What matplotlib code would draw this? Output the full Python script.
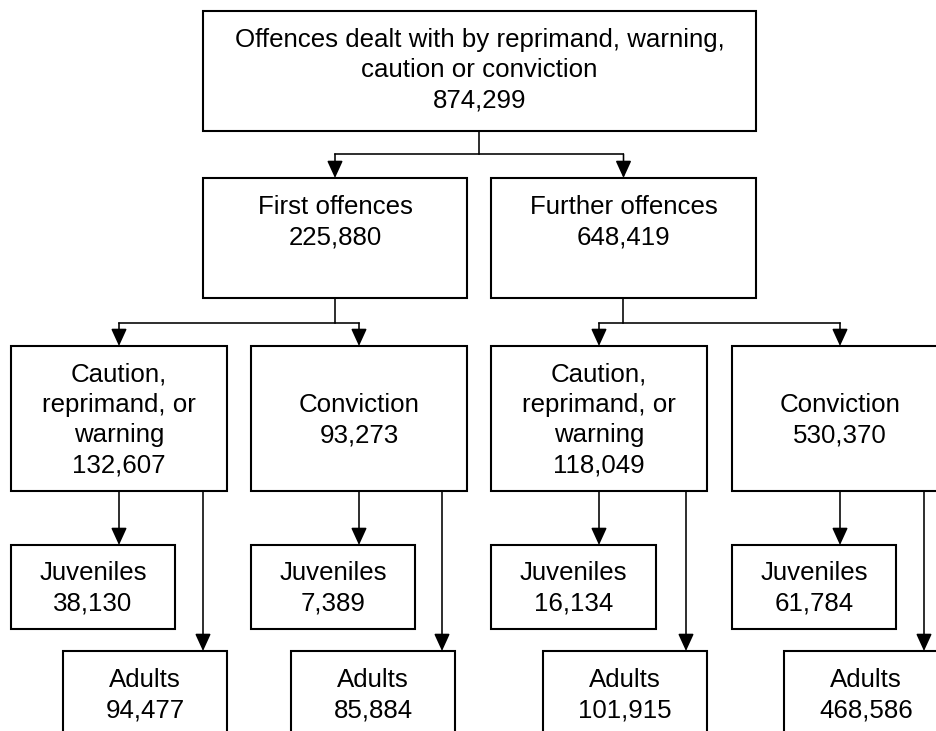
import matplotlib
matplotlib.use("Agg")
import matplotlib.pyplot as plt
from matplotlib.patches import Rectangle

plt.rcParams['font.family'] = ['Liberation Sans', 'DejaVu Sans']

# ---------------- data ----------------
top_label = "Offences dealt with by reprimand, warning,\ncaution or conviction"
top_value = 874299
offence_labels = ["First offences", "Further offences"]
offence_values = [225880, 648419]
outcome_labels = ["Caution,\nreprimand, or\nwarning", "Conviction",
                  "Caution,\nreprimand, or\nwarning", "Conviction"]
outcome_values = [132607, 93273, 118049, 530370]
juvenile_label = "Juveniles"
juvenile_values = [38130, 7389, 16134, 61784]
adult_label = "Adults"
adult_values = [94477, 85884, 101915, 468586]

# ---------------- layout (pixel coords, y downwards) ----------------
W, H = 937, 731
top_box = (203, 11, 756, 131)
offence_boxes = [(203, 178, 467, 298), (491, 178, 756, 298)]
outcome_boxes = [(11, 346, 227, 491), (251, 346, 467, 491),
                 (491, 346, 707, 491), (732, 346, 948, 491)]
juvenile_boxes = [(11, 545, 175, 629), (251, 545, 415, 629),
                  (491, 545, 656, 629), (732, 545, 896, 629)]
adult_boxes = [(63, 651, 227, 760), (291, 651, 455, 760),
               (543, 651, 707, 760), (784, 651, 948, 760)]
adult_arrow_x = [203, 442, 686, 924]
bar_y_top = 154
bar_y_mid = 323

FS = 18.6
LS = 1.33
BOX_LW = 1.5
LINE_LW = 1.15

fig = plt.figure(figsize=(W / 100, H / 100), dpi=100)
ax = fig.add_axes([0, 0, 1, 1])
ax.set_xlim(0, W)
ax.set_ylim(H, 0)
ax.axis('off')


def box(b, text, ty=None):
    x0, y0, x1, y1 = b
    ax.add_patch(Rectangle((x0, y0), x1 - x0, y1 - y0, facecolor='white',
                           edgecolor='black', lw=BOX_LW, zorder=2))
    cx = (x0 + x1) / 2
    cy = (y0 + y1) / 2 if ty is None else ty
    ax.text(cx, cy, text, ha='center', va='center', fontsize=FS,
            linespacing=LS, zorder=3, multialignment='center')


def cx(b):
    return (b[0] + b[2]) / 2


def line(x0, y0, x1, y1):
    ax.plot([x0, x1], [y0, y1], color='black', lw=LINE_LW,
            solid_capstyle='projecting', zorder=1)


def arrow(x, y0, y1):
    ax.annotate('', xy=(x, y1), xytext=(x, y0),
                arrowprops=dict(arrowstyle='-|>,head_length=1.05,head_width=0.48',
                                lw=LINE_LW, color='black', shrinkA=0, shrinkB=0,
                                mutation_scale=10),
                zorder=1)


# top
box(top_box, f"{top_label}\n{top_value:,}", ty=70)

# offences
for b, lab, v in zip(offence_boxes, offence_labels, offence_values):
    box(b, f"{lab}\n{v:,}", ty=b[1] + 44)

# connector top -> offences
line(cx(top_box), top_box[3], cx(top_box), bar_y_top)
line(cx(offence_boxes[0]), bar_y_top, cx(offence_boxes[1]), bar_y_top)
for b in offence_boxes:
    arrow(cx(b), bar_y_top, b[1])

# connector offences -> outcomes
for i, ob in enumerate(offence_boxes):
    kids = outcome_boxes[2 * i:2 * i + 2]
    line(cx(ob), ob[3], cx(ob), bar_y_mid)
    line(cx(kids[0]), bar_y_mid, cx(kids[1]), bar_y_mid)
    for k in kids:
        arrow(cx(k), bar_y_mid, k[1])

# outcomes
for b, lab, v in zip(outcome_boxes, outcome_labels, outcome_values):
    box(b, f"{lab}\n{v:,}", ty=(b[1] + b[3]) / 2 + 1.5)

# juveniles / adults
for ob, jb, ab, axx, jv, av in zip(outcome_boxes, juvenile_boxes, adult_boxes,
                                   adult_arrow_x, juvenile_values, adult_values):
    arrow(cx(ob), ob[3], jb[1])
    arrow(axx, ob[3], ab[1])
    box(jb, f"{juvenile_label}\n{jv:,}", ty=(jb[1] + jb[3]) / 2 + 1.5)
    box(ab, f"{adult_label}\n{av:,}", ty=ab[1] + 44)

fig.savefig("out.png", dpi=100)
